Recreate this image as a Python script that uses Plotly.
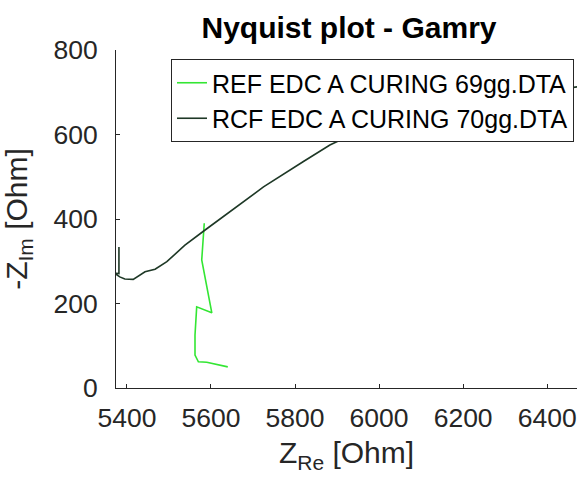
import plotly.graph_objects as go

# REF EDC A CURING 69gg.DTA
ref_re = [5584, 5578, 5602, 5566, 5562, 5562, 5570, 5590, 5640]
ref_im = [390, 303, 178, 192, 125, 78, 62, 61, 50]

# RCF EDC A CURING 70gg.DTA
rcf_re = [5381, 5381, 5370, 5383, 5395, 5415, 5443, 5467, 5495, 5538, 5586, 5725, 5820, 5883, 5967, 6100, 6250, 6400, 6480]
rcf_im = [334, 271, 272, 263, 258, 257, 275, 281, 299, 338, 374, 476, 536, 575, 615, 650, 682, 703, 714]

series_names = ["REF EDC A CURING 69gg.DTA", "RCF EDC A CURING 70gg.DTA"]
x_ticks = [5400, 5600, 5800, 6000, 6200, 6400]
y_ticks = [0, 200, 400, 600, 800]

FONT = "Liberation Sans, Arial, sans-serif"

fig = go.Figure()
fig.add_trace(go.Scatter(x=ref_re, y=ref_im, mode="lines", name=series_names[0],
                         line=dict(color="#33e633", width=1.6)))
fig.add_trace(go.Scatter(x=rcf_re, y=rcf_im, mode="lines", name=series_names[1],
                         line=dict(color="#1e3826", width=1.6)))

W, H = 577, 478
L, T, B, R = 116, 50, 90, 0

fig.update_layout(
    width=W, height=H,
    margin=dict(l=L, r=R, t=T, b=B, pad=0),
    paper_bgcolor="white", plot_bgcolor="white",
    font=dict(family=FONT, size=26.5, color="#262626"),
    title=dict(text="<b>Nyquist plot - Gamry</b>", font=dict(size=30, color="black"),
               x=349 / W, xanchor="center", xref="container",
               y=1 - 27 / H, yanchor="middle"),
    showlegend=True,
    legend=dict(x=1 - 3 / (W - L), xanchor="right", y=1 - 9 / (H - T - B), yanchor="top",
                bgcolor="white", bordercolor="#262626", borderwidth=1,
                font=dict(size=25, color="black"), tracegroupgap=0,
                itemwidth=30),
    xaxis=dict(range=[5374, 6471], tickvals=x_ticks, ticks="inside", ticklen=4,
               tickcolor="#262626", showline=True, linecolor="#262626", linewidth=1,
               showgrid=False, zeroline=False, mirror=False,
               title=dict(text="Z<sub>Re</sub> [Ohm]", font=dict(size=30), standoff=10),
               ticklabelstandoff=6),
    yaxis=dict(range=[0, 800], tickvals=y_ticks, ticks="inside", ticklen=4,
               tickcolor="#262626", showline=True, linecolor="#262626", linewidth=1,
               showgrid=False, zeroline=False, mirror=False,
               title=dict(text="-Z<sub>Im</sub> [Ohm]", font=dict(size=30), standoff=17),
               ticklabelstandoff=12),
)

fig.write_html("out.html")
